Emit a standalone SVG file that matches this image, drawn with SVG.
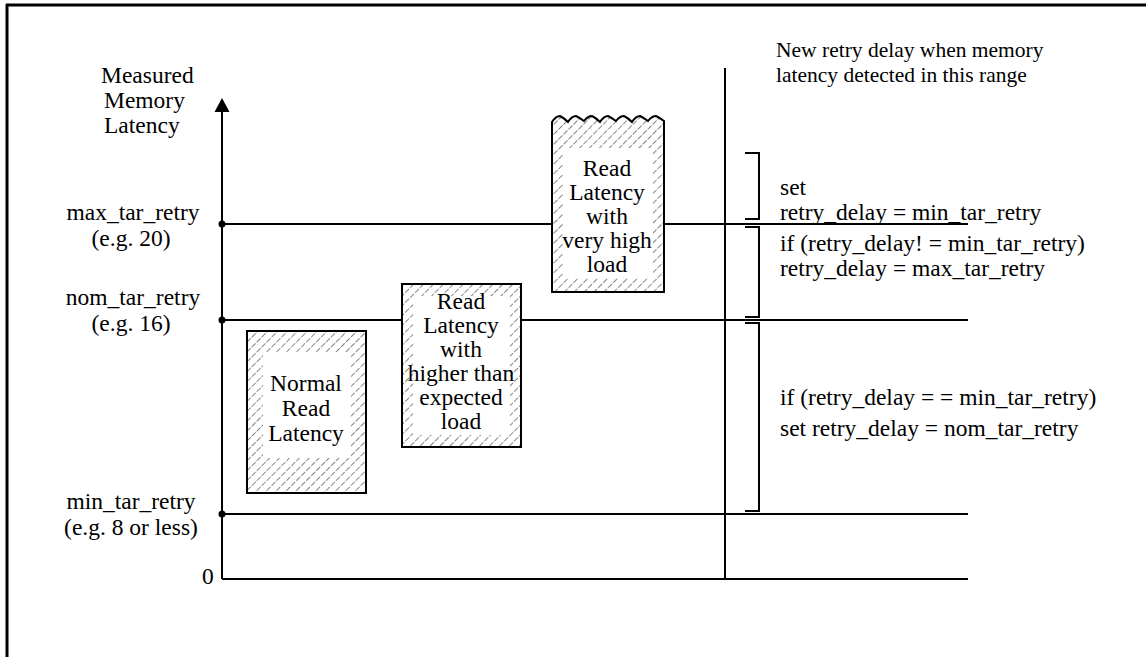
<svg xmlns="http://www.w3.org/2000/svg" width="1146" height="657" viewBox="0 0 1146 657">
<style>
text{font-family:"Liberation Serif","Times New Roman",serif;font-size:23.5px;fill:#000}
.h{font-size:21.5px}
.c{text-anchor:middle}
.ln{stroke:#000;stroke-width:2;fill:none}
.box{fill:url(#hatch);stroke:#000;stroke-width:2}
.in{fill:#fff}
</style>
<defs>
<pattern id="hatch" patternUnits="userSpaceOnUse" width="7" height="7" patternTransform="rotate(45)">
<rect width="7" height="7" fill="#fff"/>
<line x1="3.5" y1="0" x2="3.5" y2="7" stroke="#666" stroke-width="0.8" stroke-dasharray="4.5 1.5"/>
</pattern>
</defs>
<g id="frame">
<line x1="6" y1="5" x2="1146" y2="5" stroke="#000" stroke-width="3"/>
<line x1="7" y1="4" x2="7" y2="657" stroke="#000" stroke-width="3"/>
</g>
<g id="connectors">
<line class="ln" x1="222" y1="110" x2="222" y2="579"/>
<polygon points="222,98 214.5,112 229.5,112" fill="#000"/>
<line class="ln" x1="222" y1="579" x2="968" y2="579"/>
<line class="ln" x1="222" y1="514" x2="968" y2="514"/>
<line class="ln" x1="222" y1="320" x2="401" y2="320"/>
<line class="ln" x1="521" y1="320" x2="968" y2="320"/>
<line class="ln" x1="222" y1="224" x2="552" y2="224"/>
<line class="ln" x1="664" y1="224" x2="968" y2="224"/>
<line class="ln" x1="725" y1="68" x2="725" y2="579"/>
<circle cx="222" cy="224" r="3.5" fill="#000"/>
<circle cx="222" cy="320" r="3.5" fill="#000"/>
<circle cx="222" cy="514" r="3.5" fill="#000"/>
<path class="ln" d="M745,153 H759 V219 H745"/>
<path class="ln" d="M745,227 H759 V317 H745"/>
<path class="ln" d="M745,323 H759 V511 H745"/>
</g>
<g id="axis-labels">
<text x="101" y="83">Measured</text>
<text x="104" y="108">Memory</text>
<text x="104" y="133">Latency</text>
<text class="c" x="133" y="220">max_tar_retry</text>
<text class="c" x="131" y="246">(e.g. 20)</text>
<text class="c" x="133" y="305">nom_tar_retry</text>
<text class="c" x="131" y="331">(e.g. 16)</text>
<text class="c" x="131" y="509">min_tar_retry</text>
<text class="c" x="131" y="535">(e.g. 8 or less)</text>
<text x="202" y="584">0</text>
</g>
<g id="range-labels">
<text class="h" x="776" y="57">New retry delay when memory</text>
<text class="h" x="776" y="82">latency detected in this range</text>
<text x="780" y="195">set</text>
<text x="780" y="220">retry_delay = min_tar_retry</text>
<text x="780" y="251">if (retry_delay! = min_tar_retry)</text>
<text x="780" y="276">retry_delay = max_tar_retry</text>
<text x="780" y="405">if (retry_delay = = min_tar_retry)</text>
<text x="780" y="436">set retry_delay = nom_tar_retry</text>
</g>
<g id="normal">
<rect class="box" x="247" y="331" width="119" height="162"/>
<rect class="in" x="263" y="352" width="88" height="106"/>
<text class="c" x="306" y="391">Normal</text>
<text class="c" x="306" y="416">Read</text>
<text class="c" x="306" y="441">Latency</text>
</g>
<g id="higher">
<rect class="box" x="402" y="284" width="119" height="163"/>
<rect class="in" x="413" y="296" width="97" height="139"/>
<text class="c" x="461" y="309">Read</text>
<text class="c" x="461" y="333">Latency</text>
<text class="c" x="461" y="357">with</text>
<text class="c" x="461" y="381">higher than</text>
<text class="c" x="461" y="405">expected</text>
<text class="c" x="461" y="429">load</text>
</g>
<g id="veryhigh">
<path class="box" d="M552,292 V122 Q556,116 560,116 Q564,118 568,122 Q572,116 576,116 Q580,118 584,121 Q588,116 592,116 Q596,118 600,122 Q604,116 608,116 Q612,118 616,121 Q620,116 624,116 Q628,118 632,122 Q636,116 640,116 Q644,118 648,121 Q652,116 656,116 Q660,118 664,121 V292 Z"/>
<rect class="in" x="563" y="148" width="90" height="130"/>
<text class="c" x="607" y="176">Read</text>
<text class="c" x="607" y="200">Latency</text>
<text class="c" x="607" y="224">with</text>
<text class="c" x="607" y="248">very high</text>
<text class="c" x="607" y="272">load</text>
</g>
</svg>
